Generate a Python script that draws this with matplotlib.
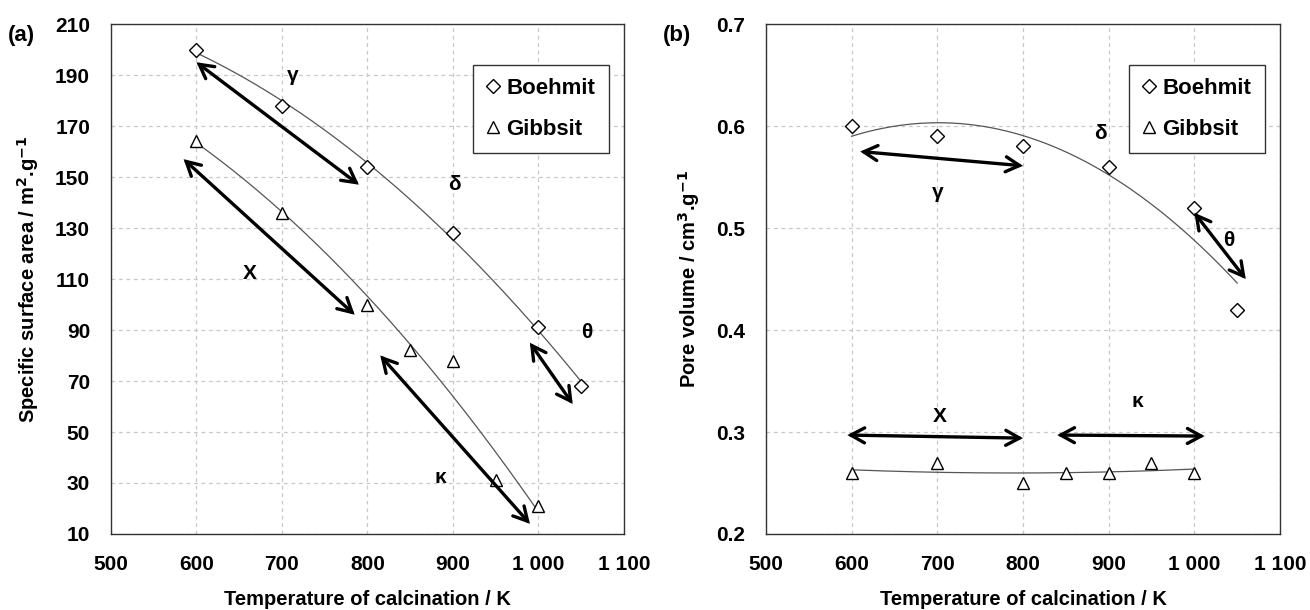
import numpy as np
import matplotlib
matplotlib.use('Agg')
import matplotlib.pyplot as plt
from matplotlib.ticker import FuncFormatter

plt.rcParams['font.family'] = ['Liberation Sans', 'DejaVu Sans']
plt.rcParams['font.weight'] = 'bold'

# panel (a): specific surface area
boe_t_a = [600, 700, 800, 900, 1000, 1050]
boe_s = [200, 178, 154, 128, 91, 68]
gib_t_a = [600, 700, 800, 850, 900, 950, 1000]
gib_s = [164, 136, 100, 82, 78, 31, 21]

# panel (b): pore volume
boe_t_b = [600, 700, 800, 900, 1000, 1050]
boe_v = [0.60, 0.59, 0.58, 0.56, 0.52, 0.42]
gib_t_b = [600, 700, 800, 850, 900, 950, 1000]
gib_v = [0.26, 0.27, 0.25, 0.26, 0.26, 0.27, 0.26]

# phase arrows (x0, y0, x1, y1) and labels (text, x, y)
arrows_a = [(600, 195, 790, 147), (585, 157, 785, 96), (815, 80, 990, 14), (990, 85, 1040, 61)]
labels_a = [('γ', 712, 190), ('X', 662, 112), ('κ', 885, 32), ('θ', 1056, 89), ('δ', 902, 147)]
arrows_b = [(610, 0.575, 800, 0.561), (595, 0.297, 800, 0.294), (840, 0.297, 1012, 0.296), (1000, 0.515, 1060, 0.450)]
labels_b = [('γ', 700, 0.535), ('X', 703, 0.315), ('κ', 934, 0.330), ('θ', 1040, 0.488), ('δ', 890, 0.593)]


def kfmt(v, pos):
    v = int(round(v))
    return '{:,}'.format(v).replace(',', ' ')


def trend(ax, x, y, deg=2):
    c = np.polyfit(x, y, deg)
    xs = np.linspace(min(x), max(x), 200)
    ax.plot(xs, np.polyval(c, xs), color='#555555', lw=0.9, zorder=2)


def panel(ax, bx, by, gx, gy, arrows, labels, ylim, yticks, ylabel, tag):
    trend(ax, bx, by)
    trend(ax, gx, gy)
    ax.plot(bx, by, 'D', ms=7, mfc='white', mec='black', mew=1.0, ls='none', label='Boehmit', zorder=3)
    ax.plot(gx, gy, '^', ms=9, mfc='white', mec='black', mew=1.0, ls='none', label='Gibbsit', zorder=3)
    for x0, y0, x1, y1 in arrows:
        ax.annotate('', xy=(x1, y1), xytext=(x0, y0),
                    arrowprops=dict(arrowstyle='<->,head_length=0.55,head_width=0.3',
                                    color='black', lw=2.4, mutation_scale=18,
                                    shrinkA=0, shrinkB=0, capstyle='round', joinstyle='miter'))
    for t, x, y in labels:
        ax.text(x, y, t, fontsize=15, fontweight='bold', ha='center', va='center')
    ax.set_xlim(500, 1100)
    ax.set_ylim(*ylim)
    ax.set_xticks(range(500, 1101, 100))
    ax.set_yticks(yticks)
    ax.xaxis.set_major_formatter(FuncFormatter(kfmt))
    ax.grid(True, ls=(0, (3, 3)), color='#c8c8c8', lw=0.9)
    ax.set_axisbelow(True)
    ax.tick_params(length=0, labelsize=15, pad=15)
    for lab in ax.get_xticklabels() + ax.get_yticklabels():
        lab.set_fontweight('bold')
    for sp in ax.spines.values():
        sp.set_color('#333333')
        sp.set_linewidth(1.0)
    ax.set_xlabel('Temperature of calcination / K', fontsize=14.5, fontweight='bold', labelpad=12)
    ax.set_ylabel(ylabel, fontsize=14.5, fontweight='bold', labelpad=10)
    leg = ax.legend(loc='upper right', bbox_to_anchor=(0.97, 0.92), fancybox=False,
                    edgecolor='#333333', framealpha=1, prop={'size': 16, 'weight': 'bold'},
                    handlelength=0.6, handletextpad=0.3, labelspacing=0.9, borderpad=0.6,
                    borderaxespad=0)
    leg.get_frame().set_linewidth(1.0)
    ax.text(-0.2, 0.978, tag, transform=ax.transAxes, fontsize=16, fontweight='bold',
            ha='left', va='center')


fig = plt.figure(figsize=(13.1, 6.1), dpi=100)
ax1 = fig.add_axes([0.0847, 0.1246, 0.3916, 0.836])
ax2 = fig.add_axes([0.5847, 0.1246, 0.3924, 0.836])

panel(ax1, boe_t_a, boe_s, gib_t_a, gib_s, arrows_a, labels_a, (10, 210),
      range(10, 211, 20), 'Specific surface area / m$^\\mathbf{2}$.g$^\\mathbf{-1}$', '(a)')
panel(ax2, boe_t_b, boe_v, gib_t_b, gib_v, arrows_b, labels_b, (0.2, 0.7),
      [0.2, 0.3, 0.4, 0.5, 0.6, 0.7], 'Pore volume / cm$^\\mathbf{3}$.g$^\\mathbf{-1}$', '(b)')
ax2.yaxis.set_major_formatter(FuncFormatter(lambda v, p: '{:.1f}'.format(v)))

fig.savefig('out.png', dpi=100)
